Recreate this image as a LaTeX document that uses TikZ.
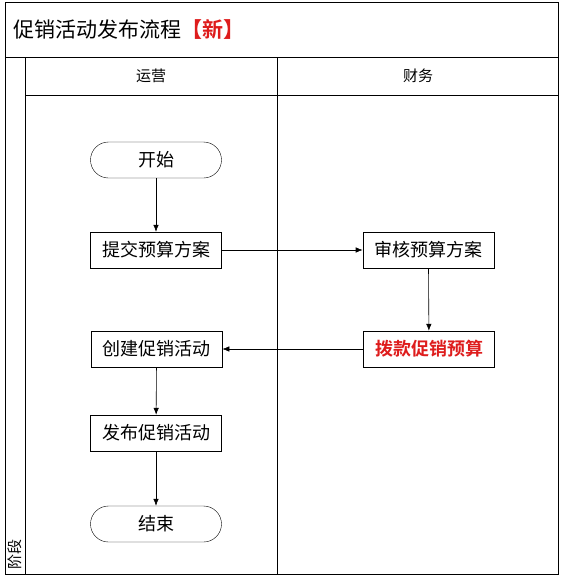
\documentclass[tikz,border=0pt]{standalone}
\usepackage{fontspec}
\setmainfont{Noto Sans CJK SC}[BoldFont={Noto Sans CJK SC Bold}]
\usetikzlibrary{positioning, arrows.meta}
\definecolor{hotred}{RGB}{222,28,28}
\tikzset{
  stepbox/.style={draw, minimum width=131pt, minimum height=36pt, inner sep=0pt, font=\fontsize{18}{20}\selectfont},
  termbox/.style={stepbox, rounded corners=18pt},
  lanehead/.style={font=\fontsize{15}{17}\selectfont}
}

\begin{document}
\begin{tikzpicture}[x=1pt,y=-1pt,>={Latex[length=7pt,width=5.5pt]}]
\useasboundingbox (0,0) rectangle (561,581);
%%First draw the lanes
\draw[line width=0.9pt] (5,2) rectangle (558,574);
\draw[line width=0.8pt] (5,57) -- (558,57);
\draw[line width=0.8pt] (25,95) -- (558,95);
\draw[line width=0.8pt] (25,57) -- (25,574);
\draw[line width=0.8pt] (277,57) -- (277,574);
%%Then the texts of the lanes
\node[anchor=west, font=\fontsize{21}{23}\selectfont] (title) at (10,29) {促销活动发布流程\textcolor{hotred}{\textbf{【新】}}};
\node[lanehead] (h1) at (151,76) {运营};
\node[lanehead] (h2) at (418,76) {财务};
\node[lanehead, rotate=90, anchor=west] (stage) at (15,573) {阶段};
%%Place the nodes
\node[termbox] (s0) at (156,160) {开始};
\node[stepbox] (a1) at (156,250) {提交预算方案};
\node[stepbox] (b1) [right=141pt of a1] {审核预算方案};
\node[stepbox, text=hotred, font=\fontsize{18}{20}\selectfont\bfseries] (b2) at (429,349) {拨款促销预算};
\node[stepbox] (a2) [left=141pt of b2] {创建促销活动};
\node[stepbox] (a3) at (156,433) {发布促销活动};
\node[termbox] (s1) at (156,524) {结束};
%%Draw the arrows
\draw[->, line width=0.6pt]
(s0) edge (a1)
(a1) edge (b1)
(b1) edge (b2)
(b2) edge (a2)
(a2) edge (a3)
(a3) edge (s1);
\end{tikzpicture}
\end{document}
